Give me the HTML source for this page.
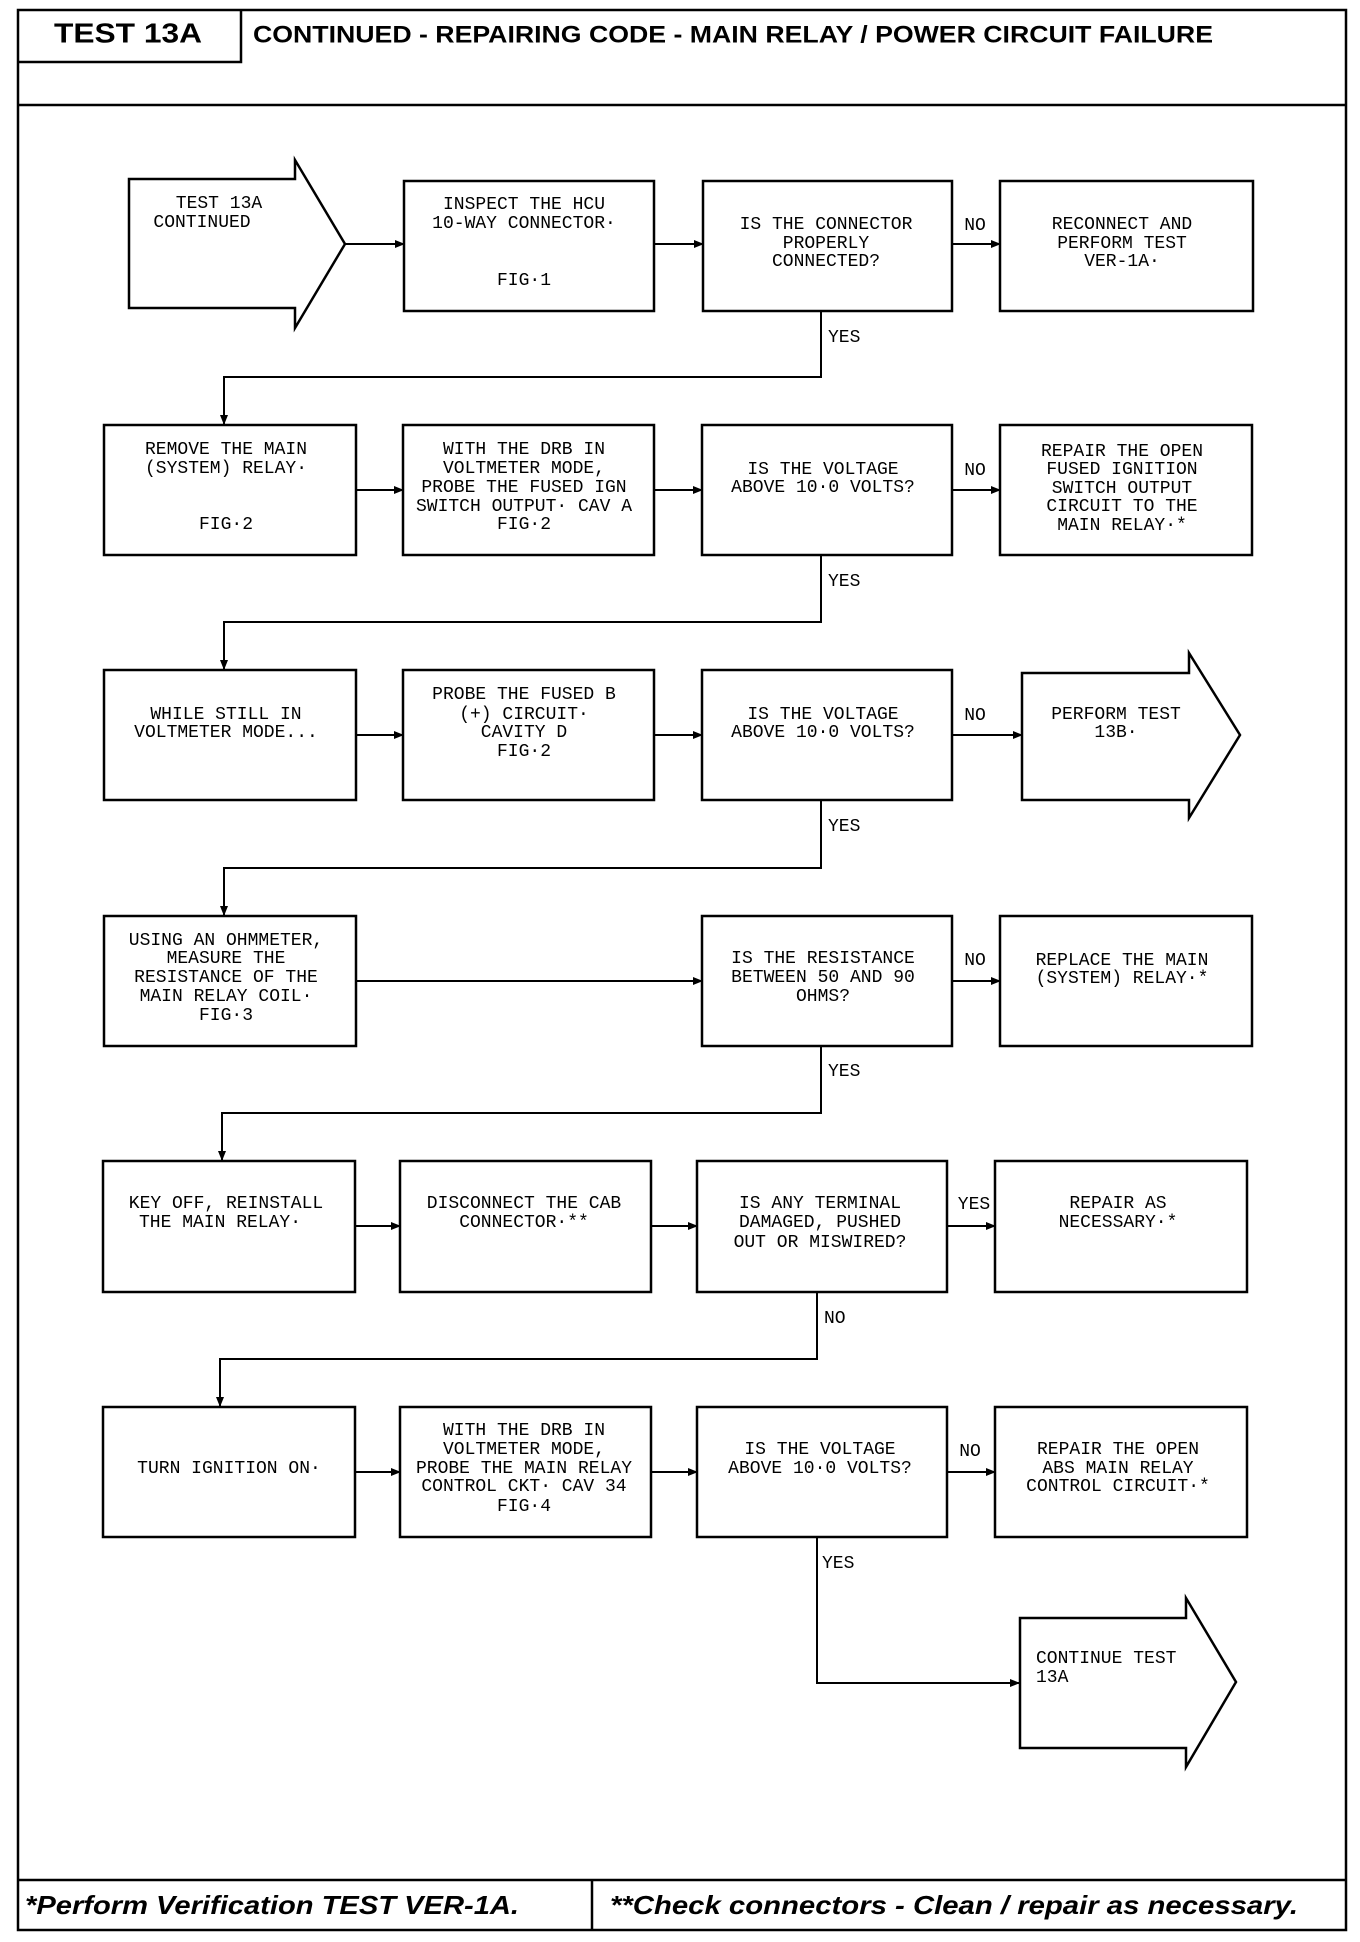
<!DOCTYPE html>
<html><head><meta charset="utf-8"><style>
html,body{margin:0;padding:0;background:#fff;}
svg{display:block;}
.t{font-family:"Liberation Mono",monospace;font-size:18px;fill:#000;text-anchor:middle;dominant-baseline:central;}
.l{text-anchor:start;}
.b{fill:none;stroke:#000;stroke-width:2.5;}
.ln{fill:none;stroke:#000;stroke-width:2;}
</style></head><body>
<svg width="1360" height="1942" viewBox="0 0 1360 1942" xmlns="http://www.w3.org/2000/svg">
<defs><marker id="a" markerWidth="10" markerHeight="8" refX="9" refY="4" orient="auto" markerUnits="userSpaceOnUse"><path d="M0,0 L10,4 L0,8 z" fill="#000"/></marker></defs>
<!-- frame -->
<rect x="18" y="10" width="1328" height="1920" class="b" stroke-width="3"/>
<line x1="18" y1="105" x2="1346" y2="105" class="b" stroke-width="3"/>
<polyline points="241,10 241,62 18,62" class="b"/>
<line x1="18" y1="1880" x2="1346" y2="1880" class="b" stroke-width="3"/>
<line x1="592" y1="1880" x2="592" y2="1930" class="b"/>
<text x="128" y="33" style="font-family:'Liberation Sans',sans-serif;font-weight:bold;font-size:28px;text-anchor:middle;dominant-baseline:central" textLength="148" lengthAdjust="spacingAndGlyphs">TEST 13A</text>
<text x="253" y="35" style="font-family:'Liberation Sans',sans-serif;font-weight:bold;font-size:24px;dominant-baseline:central" textLength="960" lengthAdjust="spacingAndGlyphs">CONTINUED - REPAIRING CODE - MAIN RELAY / POWER CIRCUIT FAILURE</text>
<text x="25" y="1905" style="font-family:'Liberation Sans',sans-serif;font-weight:bold;font-style:italic;font-size:26px;dominant-baseline:central" textLength="494" lengthAdjust="spacingAndGlyphs">*Perform Verification TEST VER-1A.</text>
<text x="610" y="1905" style="font-family:'Liberation Sans',sans-serif;font-weight:bold;font-style:italic;font-size:26px;dominant-baseline:central" textLength="688" lengthAdjust="spacingAndGlyphs">**Check connectors - Clean / repair as necessary.</text>

<!-- row 1 -->
<polygon points="129,179 295,179 295,160 345,244 295,328 295,308 129,308" class="b"/>
<rect x="404" y="181" width="250" height="130" class="b"/>
<rect x="703" y="181" width="249" height="130" class="b"/>
<rect x="1000" y="181" width="253" height="130" class="b"/>
<line x1="345" y1="244" x2="404" y2="244" class="ln" marker-end="url(#a)"/>
<line x1="654" y1="244" x2="703" y2="244" class="ln" marker-end="url(#a)"/>
<line x1="952" y1="244" x2="1000" y2="244" class="ln" marker-end="url(#a)"/>
<text class="t" x="219" y="204">TEST 13A</text>
<text class="t" x="202" y="223">CONTINUED</text>
<text class="t" x="524" y="205">INSPECT THE HCU</text>
<text class="t" x="524" y="224">10-WAY CONNECTOR·</text>
<text class="t" x="524" y="281">FIG·1</text>
<text class="t" x="826" y="225">IS THE CONNECTOR</text>
<text class="t" x="826" y="244">PROPERLY</text>
<text class="t" x="826" y="262">CONNECTED?</text>
<text class="t" x="975" y="226">NO</text>
<text class="t" x="1122" y="225">RECONNECT AND</text>
<text class="t" x="1122" y="244">PERFORM TEST</text>
<text class="t" x="1122" y="262">VER-1A·</text>
<polyline points="821,311 821,377 224,377 224,424" class="ln" marker-end="url(#a)"/>
<text class="t l" x="828" y="338">YES</text>

<!-- row 2 -->
<rect x="104" y="425" width="252" height="130" class="b"/>
<rect x="403" y="425" width="251" height="130" class="b"/>
<rect x="702" y="425" width="250" height="130" class="b"/>
<rect x="1000" y="425" width="252" height="130" class="b"/>
<line x1="356" y1="490" x2="403" y2="490" class="ln" marker-end="url(#a)"/>
<line x1="654" y1="490" x2="702" y2="490" class="ln" marker-end="url(#a)"/>
<line x1="952" y1="490" x2="1000" y2="490" class="ln" marker-end="url(#a)"/>
<text class="t" x="226" y="450">REMOVE THE MAIN</text>
<text class="t" x="226" y="469">(SYSTEM) RELAY·</text>
<text class="t" x="226" y="525">FIG·2</text>
<text class="t" x="524" y="450">WITH THE DRB IN</text>
<text class="t" x="524" y="469">VOLTMETER MODE,</text>
<text class="t" x="524" y="488">PROBE THE FUSED IGN</text>
<text class="t" x="524" y="507">SWITCH OUTPUT· CAV A</text>
<text class="t" x="524" y="525">FIG·2</text>
<text class="t" x="823" y="470">IS THE VOLTAGE</text>
<text class="t" x="823" y="488">ABOVE 10·0 VOLTS?</text>
<text class="t" x="975" y="471">NO</text>
<text class="t" x="1122" y="452">REPAIR THE OPEN</text>
<text class="t" x="1122" y="470">FUSED IGNITION</text>
<text class="t" x="1122" y="489">SWITCH OUTPUT</text>
<text class="t" x="1122" y="507">CIRCUIT TO THE</text>
<text class="t" x="1122" y="526">MAIN RELAY·*</text>
<polyline points="821,555 821,622 224,622 224,669" class="ln" marker-end="url(#a)"/>
<text class="t l" x="828" y="582">YES</text>

<!-- row 3 -->
<rect x="104" y="670" width="252" height="130" class="b"/>
<rect x="403" y="670" width="251" height="130" class="b"/>
<rect x="702" y="670" width="250" height="130" class="b"/>
<polygon points="1022,673 1189,673 1189,653 1240,735 1189,818 1189,800 1022,800" class="b"/>
<line x1="356" y1="735" x2="403" y2="735" class="ln" marker-end="url(#a)"/>
<line x1="654" y1="735" x2="702" y2="735" class="ln" marker-end="url(#a)"/>
<line x1="952" y1="735" x2="1022" y2="735" class="ln" marker-end="url(#a)"/>
<text class="t" x="226" y="715">WHILE STILL IN</text>
<text class="t" x="226" y="733">VOLTMETER MODE...</text>
<text class="t" x="524" y="695">PROBE THE FUSED B</text>
<text class="t" x="524" y="715">(+) CIRCUIT·</text>
<text class="t" x="524" y="733">CAVITY D</text>
<text class="t" x="524" y="752">FIG·2</text>
<text class="t" x="823" y="715">IS THE VOLTAGE</text>
<text class="t" x="823" y="733">ABOVE 10·0 VOLTS?</text>
<text class="t" x="975" y="716">NO</text>
<text class="t" x="1116" y="715">PERFORM TEST</text>
<text class="t" x="1116" y="733">13B·</text>
<polyline points="821,800 821,868 224,868 224,915" class="ln" marker-end="url(#a)"/>
<text class="t l" x="828" y="827">YES</text>

<!-- row 4 -->
<rect x="104" y="916" width="252" height="130" class="b"/>
<rect x="702" y="916" width="250" height="130" class="b"/>
<rect x="1000" y="916" width="252" height="130" class="b"/>
<line x1="356" y1="981" x2="702" y2="981" class="ln" marker-end="url(#a)"/>
<line x1="952" y1="981" x2="1000" y2="981" class="ln" marker-end="url(#a)"/>
<text class="t" x="226" y="941">USING AN OHMMETER,</text>
<text class="t" x="226" y="959">MEASURE THE</text>
<text class="t" x="226" y="978">RESISTANCE OF THE</text>
<text class="t" x="226" y="997">MAIN RELAY COIL·</text>
<text class="t" x="226" y="1016">FIG·3</text>
<text class="t" x="823" y="959">IS THE RESISTANCE</text>
<text class="t" x="823" y="978">BETWEEN 50 AND 90</text>
<text class="t" x="823" y="997">OHMS?</text>
<text class="t" x="975" y="961">NO</text>
<text class="t" x="1122" y="961">REPLACE THE MAIN</text>
<text class="t" x="1122" y="979">(SYSTEM) RELAY·*</text>
<polyline points="821,1046 821,1113 222,1113 222,1160" class="ln" marker-end="url(#a)"/>
<text class="t l" x="828" y="1072">YES</text>

<!-- row 5 -->
<rect x="103" y="1161" width="252" height="131" class="b"/>
<rect x="400" y="1161" width="251" height="131" class="b"/>
<rect x="697" y="1161" width="250" height="131" class="b"/>
<rect x="995" y="1161" width="252" height="131" class="b"/>
<line x1="355" y1="1226" x2="400" y2="1226" class="ln" marker-end="url(#a)"/>
<line x1="651" y1="1226" x2="697" y2="1226" class="ln" marker-end="url(#a)"/>
<line x1="947" y1="1226" x2="995" y2="1226" class="ln" marker-end="url(#a)"/>
<text class="t" x="226" y="1204">KEY OFF, REINSTALL</text>
<text class="t" x="220" y="1223">THE MAIN RELAY·</text>
<text class="t" x="524" y="1204">DISCONNECT THE CAB</text>
<text class="t" x="524" y="1223">CONNECTOR·**</text>
<text class="t" x="820" y="1204">IS ANY TERMINAL</text>
<text class="t" x="820" y="1223">DAMAGED, PUSHED</text>
<text class="t" x="820" y="1243">OUT OR MISWIRED?</text>
<text class="t" x="974" y="1205">YES</text>
<text class="t" x="1118" y="1204">REPAIR AS</text>
<text class="t" x="1118" y="1223">NECESSARY·*</text>
<polyline points="817,1292 817,1359 220,1359 220,1406" class="ln" marker-end="url(#a)"/>
<text class="t l" x="824" y="1319">NO</text>

<!-- row 6 -->
<rect x="103" y="1407" width="252" height="130" class="b"/>
<rect x="400" y="1407" width="251" height="130" class="b"/>
<rect x="697" y="1407" width="250" height="130" class="b"/>
<rect x="995" y="1407" width="252" height="130" class="b"/>
<line x1="355" y1="1472" x2="400" y2="1472" class="ln" marker-end="url(#a)"/>
<line x1="651" y1="1472" x2="697" y2="1472" class="ln" marker-end="url(#a)"/>
<line x1="947" y1="1472" x2="995" y2="1472" class="ln" marker-end="url(#a)"/>
<text class="t" x="229" y="1469">TURN IGNITION ON·</text>
<text class="t" x="524" y="1431">WITH THE DRB IN</text>
<text class="t" x="524" y="1450">VOLTMETER MODE,</text>
<text class="t" x="524" y="1469">PROBE THE MAIN RELAY</text>
<text class="t" x="524" y="1487">CONTROL CKT· CAV 34</text>
<text class="t" x="524" y="1507">FIG·4</text>
<text class="t" x="820" y="1450">IS THE VOLTAGE</text>
<text class="t" x="820" y="1469">ABOVE 10·0 VOLTS?</text>
<text class="t" x="970" y="1452">NO</text>
<text class="t" x="1118" y="1450">REPAIR THE OPEN</text>
<text class="t" x="1118" y="1469">ABS MAIN RELAY</text>
<text class="t" x="1118" y="1487">CONTROL CIRCUIT·*</text>
<polyline points="817,1537 817,1683 1019,1683" class="ln" marker-end="url(#a)"/>
<text class="t l" x="822" y="1564">YES</text>
<polygon points="1020,1618 1186,1618 1186,1598 1236,1682 1186,1767 1186,1748 1020,1748" class="b"/>
<text class="t l" x="1036" y="1659">CONTINUE TEST</text>
<text class="t l" x="1036" y="1678">13A</text>
</svg>
</body></html>
